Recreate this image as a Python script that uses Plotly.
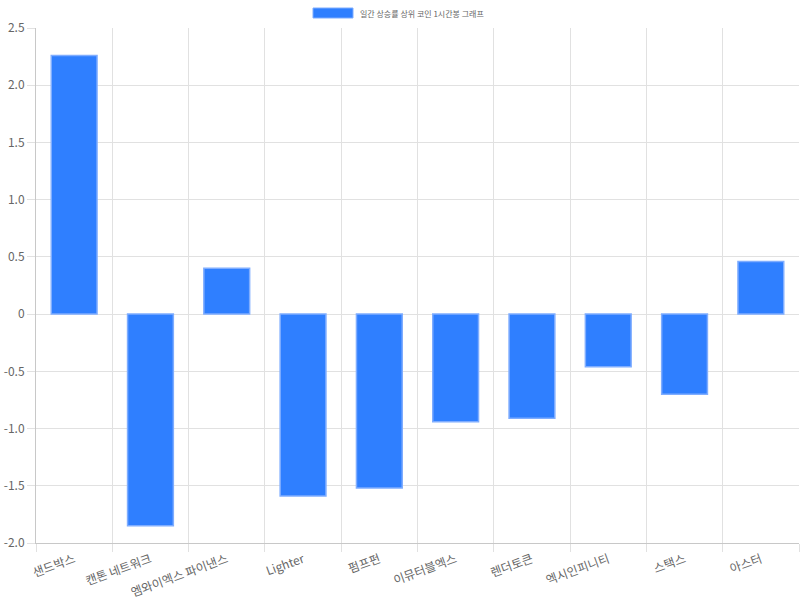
import plotly.graph_objects as go

categories = ["샌드박스", "캔톤 네트워크", "엠와이엑스 파이낸스", "Lighter", "펌프펀",
              "이뮤터블엑스", "렌더토큰", "엑시인피니티", "스택스", "아스터"]
values = [2.26, -1.85, 0.40, -1.59, -1.52, -0.94, -0.91, -0.46, -0.70, 0.46]
series_name = "일간 상승률 상위 코인 1시간봉 그래프"
y_ticks = [-2.0, -1.5, -1.0, -0.5, 0, 0.5, 1.0, 1.5, 2.0, 2.5]
y_ticktext = ["-2.0", "-1.5", "-1.0", "-0.5", "0", "0.5", "1.0", "1.5", "2.0", "2.5"]

FONT = "Noto Sans CJK KR, Noto Sans, sans-serif"
GRID = "#e1e1e1"

fig = go.Figure(go.Bar(
    x=categories, y=values, name=series_name, width=0.6,
    marker=dict(color="#2f7fff", line=dict(color="#7fadff", width=1.5)),
    showlegend=False,
))

fig.update_layout(
    width=800, height=600,
    margin=dict(l=36, r=1, t=28, b=57),
    paper_bgcolor="white", plot_bgcolor="white",
    font=dict(family=FONT, size=12, color="#666"),
    xaxis=dict(
        type="category", tickson="boundaries", showgrid=True, gridcolor=GRID,
        ticks="outside", ticklen=8, tickcolor=GRID, tickangle=-20,
        ticklabelstandoff=4,
        showline=True, linecolor="#c8c8c8", automargin=False,
        tickfont=dict(size=12, color="#666"),
    ),
    yaxis=dict(
        range=[-2.0, 2.5], tickvals=y_ticks, ticktext=y_ticktext,
        showgrid=True, gridcolor=GRID, zeroline=False,
        ticks="outside", ticklen=8, tickcolor=GRID,
        showline=True, linecolor="#c8c8c8", automargin=False,
        tickfont=dict(size=12, color="#666"),
    ),
    shapes=[dict(type="rect", xref="paper", yref="paper",
                 x0=(313 - 36) / 763, x1=(353 - 36) / 763,
                 y0=1 + 10 / 515, y1=1 + 20 / 515,
                 fillcolor="#2f7fff", line=dict(color="#7fadff", width=1))],
    annotations=[dict(text=series_name, xref="paper", yref="paper",
                      x=(358 - 36) / 763, y=1 + 15 / 515, xanchor="left", yanchor="middle",
                      showarrow=False, font=dict(size=8, color="#666"))],
)

fig.write_html("out.html", config={"displayModeBar": False},
               post_script="document.body.style.margin='0px';")
